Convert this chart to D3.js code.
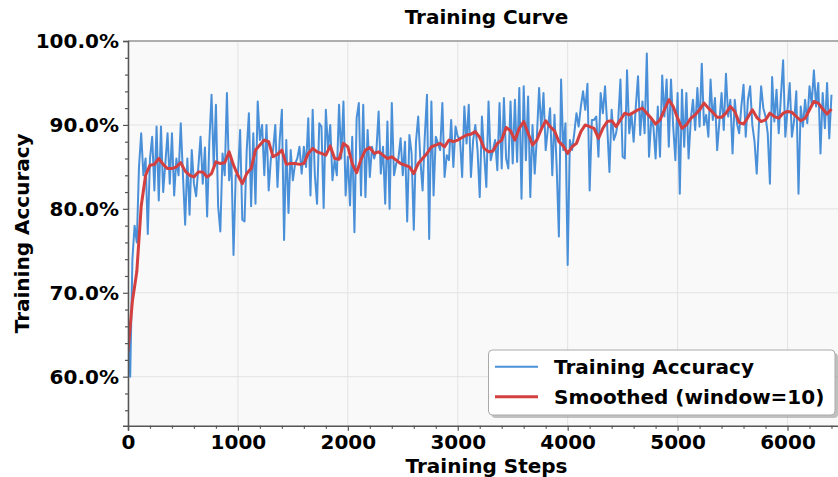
<!DOCTYPE html>
<html><head><meta charset="utf-8">
<script src="https://cdn.jsdelivr.net/npm/d3@7/dist/d3.min.js"></script>
<style>
body{margin:0;background:#fff}
svg{display:block}
text{font-family:"DejaVu Sans",sans-serif;font-weight:bold;fill:#000}
</style>
</head><body>
<svg id="chart" width="838" height="477"></svg>
<script>
// Training accuracy (%), one value every 20 steps, 0..6400
const accuracy = [
66,60,74,78,76,85,89,84,86,77,
86,88.6,82.2,89.8,81,89.8,82,85.5,89,83,
89,81.6,86,84,90.2,84,78.1,86,79.3,87,
83,81.5,85,88.6,83,87.3,79.1,88,93.6,85,
92.4,80.3,77.3,86.6,84,93.8,83.4,86,74.5,84,
84,89.4,78.7,78.5,87,91.4,80.3,89,80.6,92.8,
88.2,90,84,90,82.2,86,87,90,82.6,88.2,
91.8,76.3,88.2,79.5,87,83.4,85.4,86,87.4,84.2,
87.4,85,90.8,81.6,91.8,84,80.6,90.2,89.8,80.1,
91.8,87,90,83.4,85.8,84,92.4,86,92.8,81.6,
86.2,80.4,88.6,77.2,90.8,92.6,81.6,92.4,81.4,89.4,
83.8,87.4,86,87,91.6,84.2,87.4,80.6,90.4,80,
92.6,84,85.4,86,88.4,84,88,78.5,88.8,86.6,
77.5,88,91,85.8,82.2,88.6,93.6,76.4,92.8,81.6,
88.6,87.8,87,92.6,83.8,86.4,85.8,90.6,85,89.8,
88.6,88.4,83.8,92.2,87.8,92.4,83.8,88.2,90,87,
81.4,91,86.6,82.6,92.8,85.8,87,88.2,84.6,92.6,
84.8,93.2,86,84.8,92.8,85.4,93,85.6,94.4,81.2,
94.6,85.8,93.4,81.4,90,84.2,88.6,94.4,89.4,93.8,
87,89.6,92,84,91.2,85,76.7,95.4,87,90.2,
73.3,88.2,87,89,91.4,89.8,92.2,94,91.8,94.9,
82.2,90.6,90.6,91,86.2,93.8,91.4,94.6,89.8,84.4,
91.8,88.2,89,90.6,95.4,86.2,86,96.5,89,91.4,
88,92.2,95.8,88.8,92.8,89,98.5,86.2,90.6,89.8,
86,92.2,86.2,95.9,91,95.4,87.4,95.4,89.8,85.8,
93.8,81.8,94.2,87.4,93.8,86,90.6,93,89.4,94.4,
89.8,97.3,90,91.2,88.6,95.4,90.6,93.2,87,90.4,
93.8,89.4,96.1,91,93,86.6,93,90.2,89,92.2,
94.8,88.6,93,94.6,90,88,84.2,90,94.6,92,
91,89,83,95.7,90.4,94.2,89,93.4,97.7,88.6,
91.8,95,88.6,90.5,94,81.8,92.2,89.8,93,90.2,
94.6,92.5,96.5,92.2,95,86.6,93.8,89.6,95,88.4,
93.6
];
// Smoothed accuracy (%), one value every 40 steps, 0..6400
const smoothed = [
63,69,72.5,80.3,84,85.2,85.3,86,85.3,84.8,
84.8,85,85.5,84.5,84,83.8,84.4,84.4,83.8,84.2,
85.6,85.4,85.5,86.8,85.2,84,83,84.2,84.8,87,
87.6,88.2,88,86.2,86.5,87,85.3,85.4,85.4,85.3,
85.4,86.6,87.2,86.8,86.6,86.4,87.5,86,85.9,87.8,
87.4,85.4,84.3,85.9,87,87.3,86.6,86.8,86.4,86,
86.2,85.8,85.4,85.2,85,84.2,85.4,86,86.6,87.4,
87.6,87.8,87.4,88.2,88,88.2,88.5,88.8,88.9,89.2,
88.5,87.2,86.8,86.9,87.8,88.2,89.7,89.3,88.2,89.6,
90.4,89,87.6,88.2,89.5,90.5,89.8,89.3,88,87.5,
86.6,87.4,87.8,89.2,90,89.8,89.6,88.4,89.6,90.4,
90.5,89.8,90.6,91.4,91.2,91.5,91.8,92,91.4,90.8,
90.1,90.6,91.8,93,92.2,90.8,89.6,90,90.8,91.2,
91.8,92.6,92,91.5,90.9,90.9,91.4,92.2,91.6,90.3,
90.1,90.9,91.8,90.9,90.4,90.6,91.4,91,90.8,91.4,
91.6,91.5,91,90.5,90.8,91.8,92.8,92.6,91.9,91.3,
91.9
];
const accStep = 20, smoothStep = 40;
const xTicks = [0,1000,2000,3000,4000,5000,6000];
const yTicks = [60,70,80,90,100];
const seriesNames = ["Training Accuracy","Smoothed (window=10)"];
const colors = ["#4a90d9","#d43f3f"];

const svg = d3.select("#chart");
const L = 128, R = 845, T = 41, B = 425.7;
const x = d3.scaleLinear().domain([0, 6523]).range([L, R]);
const y = d3.scaleLinear().domain([54.16, 100]).range([B, T]);

const defs = svg.append("defs");
defs.append("clipPath").attr("id","clip").append("rect")
  .attr("x",L).attr("y",T).attr("width",R-L).attr("height",B-T);

svg.append("rect").attr("x",L).attr("y",T).attr("width",R-L).attr("height",B-T)
  .attr("fill","#f9f9f9");

// grid
const grid = svg.append("g");
grid.selectAll(".gx").data(xTicks).join("line")
  .attr("x1",d=>x(d)).attr("x2",d=>x(d)).attr("y1",T).attr("y2",B)
  .attr("stroke","#e3e3e3").attr("stroke-width",1);
grid.selectAll(".gy").data(yTicks).join("line")
  .attr("x1",L).attr("x2",R).attr("y1",d=>y(d)).attr("y2",d=>y(d))
  .attr("stroke","#e3e3e3").attr("stroke-width",1);

const g = svg.append("g").attr("clip-path","url(#clip)");
const lineAcc = d3.line().x((d,i)=>x(i*accStep)).y(d=>y(d));
const lineSm = d3.line().x((d,i)=>x(i*smoothStep)).y(d=>y(d));
g.append("path").datum(accuracy).attr("d",lineAcc)
  .attr("fill","none").attr("stroke",colors[0]).attr("stroke-width",2)
  .attr("stroke-linejoin","round");
g.append("path").datum(smoothed).attr("d",lineSm)
  .attr("fill","none").attr("stroke",colors[1]).attr("stroke-width",3)
  .attr("stroke-linejoin","round");

// frame (top/right)
svg.append("line").attr("x1",L).attr("x2",R).attr("y1",T).attr("y2",T)
  .attr("stroke","#999").attr("stroke-width",1.3);
svg.append("line").attr("x1",R).attr("x2",R).attr("y1",T).attr("y2",B)
  .attr("stroke","#999").attr("stroke-width",1.3);

// axes
const fs = "20px";
svg.append("g").attr("transform",`translate(${L},0)`)
  .call(d3.axisLeft(y).tickValues(yTicks).tickFormat(d=>d.toFixed(1)+"%").tickSize(5).tickPadding(4));
const yMinor = d3.range(56, 100, 2).filter(v=>v%10!==0);
svg.append("g").attr("transform",`translate(${L},0)`)
  .call(d3.axisLeft(y).tickValues(yMinor).tickFormat("").tickSize(3))
  .call(s=>s.select(".domain").remove());
svg.append("g").attr("transform",`translate(0,${B})`)
  .call(d3.axisBottom(x).tickValues(xTicks).tickFormat(d3.format("d")).tickSize(5).tickPadding(4));
const xMinor = d3.range(200, 6600, 200).filter(v=>v%1000!==0);
svg.append("g").attr("transform",`translate(0,${B})`)
  .call(d3.axisBottom(x).tickValues(xMinor).tickFormat("").tickSize(3))
  .call(s=>s.select(".domain").remove());
svg.selectAll(".domain").attr("stroke","#555").attr("stroke-width",1.5);
svg.selectAll(".tick line").attr("stroke","#555").attr("stroke-width",1.2);
svg.selectAll(".tick text").attr("font-size",fs).attr("font-family","DejaVu Sans").attr("font-weight","bold").attr("fill","#000");

// labels
svg.append("text").attr("x",(L+R)/2).attr("y",17).attr("dy","0.35em")
  .attr("text-anchor","middle").attr("font-size",fs).text("Training Curve");
svg.append("text").attr("x",(L+R)/2).attr("y",466).attr("dy","0.35em")
  .attr("text-anchor","middle").attr("font-size",fs).text("Training Steps");
svg.append("text").attr("transform",`translate(22,${(T+B)/2}) rotate(-90)`).attr("dy","0.35em")
  .attr("text-anchor","middle").attr("font-size",fs).text("Training Accuracy");

// legend
const lg = svg.append("g");
const bx = 488.5, by = 350, bw = 346.5, bh = 65;
lg.append("rect").attr("x",bx+3).attr("y",by+3).attr("width",bw).attr("height",bh)
  .attr("rx",4).attr("fill","#888").attr("opacity",0.5);
lg.append("rect").attr("x",bx).attr("y",by).attr("width",bw).attr("height",bh)
  .attr("rx",4).attr("fill","#fff").attr("stroke","#aaa").attr("stroke-width",1);
seriesNames.forEach((n,i)=>{
  const yy = 366.7 + i*30;
  lg.append("line").attr("x1",495).attr("x2",538).attr("y1",yy).attr("y2",yy)
    .attr("stroke",colors[i]).attr("stroke-width",i?3:2);
  lg.append("text").attr("x",554).attr("y",yy).attr("dy","0.35em")
    .attr("font-size",fs).text(n);
});
</script>
</body></html>
